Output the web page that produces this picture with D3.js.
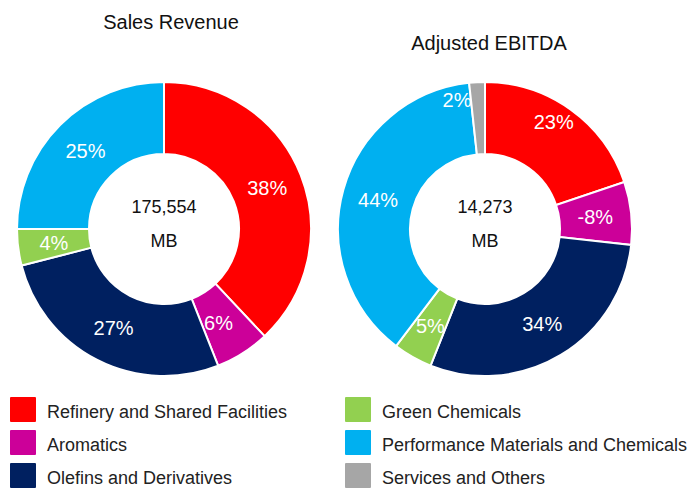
<!DOCTYPE html>
<html>
<head>
<meta charset="utf-8">
<script src="https://cdn.jsdelivr.net/npm/d3@7"></script>
<style>
  body { margin: 0; background: #fff; }
  svg { display: block; font-family: Arial, "Liberation Sans", sans-serif; }
</style>
</head>
<body>
<div id="chart"></div>
<script>
// segments, shared by both donuts + legend
const segments = [
  "Refinery and Shared Facilities",
  "Aromatics",
  "Olefins and Derivatives",
  "Green Chemicals",
  "Performance Materials and Chemicals",
  "Services and Others"
];
const colors = ["#ff0000", "#cc0099", "#002060", "#92d050", "#00b0f0", "#a6a6a6"];

// share of total, in %
const salesShare = [38, 6, 27, 4, 25];
const ebitdaShare = [23, -8, 34, 5, 44, 2];

const titles = ["Sales Revenue", "Adjusted EBITDA"];
const totals = ["175,554", "14,273"];
const unit = "MB";

const width = 694, height = 488;
const outerR = 147, innerR = 75;

const svg = d3.select("#chart").append("svg")
  .attr("width", width)
  .attr("height", height)
  .attr("viewBox", [0, 0, width, height]);

const color = d3.scaleOrdinal().domain(segments).range(colors);

// pie keeps order, slice size from |value| (the -8% still gets a slice)
const pie = d3.pie().sort(null).value(d => Math.abs(d.v));
const arc = d3.arc().innerRadius(innerR).outerRadius(outerR);
const labelArc = d3.arc().innerRadius(111).outerRadius(111);

// hand-placed labels like in the original (dx, dy from the centroid)
const nudge = {
  "Adjusted EBITDA|Refinery and Shared Facilities": [4, -17],
  "Adjusted EBITDA|Services and Others": [-22, -18],
  "Sales Revenue|Aromatics": [-5, 0]
};

const donuts = [
  { title: titles[0], total: totals[0], values: salesShare, cx: 164, titleX: 171, titleY: 29 },
  { title: titles[1], total: totals[1], values: ebitdaShare, cx: 485, titleX: 489, titleY: 50 }
];
const cy = 229;

donuts.forEach(dn => {
  const rows = dn.values.map((v, i) => ({ name: segments[i], v: v }));
  const g = svg.append("g").attr("transform", `translate(${dn.cx},${cy})`);

  g.selectAll("path")
    .data(pie(rows))
    .join("path")
    .attr("d", arc)
    .attr("fill", d => color(d.data.name))
    .attr("stroke", "#fff")
    .attr("stroke-width", 2);

  g.selectAll("text.pct")
    .data(pie(rows))
    .join("text")
    .attr("class", "pct")
    .attr("transform", d => {
      const [x, y] = labelArc.centroid(d);
      const n = nudge[dn.title + "|" + d.data.name] || [0, 0];
      return `translate(${x + n[0]},${y + n[1]})`;
    })
    .attr("text-anchor", "middle")
    .attr("dy", "0.36em")
    .attr("fill", "#fff")
    .attr("font-size", 20)
    .text(d => d.data.v + "%");

  g.append("text")
    .attr("text-anchor", "middle")
    .attr("y", -16)
    .attr("font-size", 18)
    .attr("fill", "#111")
    .text(dn.total);
  g.append("text")
    .attr("text-anchor", "middle")
    .attr("y", 18)
    .attr("font-size", 18)
    .attr("fill", "#111")
    .text(unit);

  svg.append("text")
    .attr("x", dn.titleX)
    .attr("y", dn.titleY)
    .attr("text-anchor", "middle")
    .attr("font-size", 20)
    .attr("fill", "#111")
    .text(dn.title);
});

// legend, 2 columns x 3 rows
const legend = svg.append("g")
  .selectAll("g")
  .data(segments)
  .join("g")
  .attr("transform", (d, i) => `translate(${i < 3 ? 10 : 345},${397 + (i % 3) * 33})`);

legend.append("rect")
  .attr("width", 26)
  .attr("height", 25)
  .attr("rx", 1)
  .attr("fill", d => color(d));

legend.append("text")
  .attr("x", 37)
  .attr("y", 21)
  .attr("font-size", 18)
  .attr("fill", "#222")
  .text(d => d);
</script>
</body>
</html>
